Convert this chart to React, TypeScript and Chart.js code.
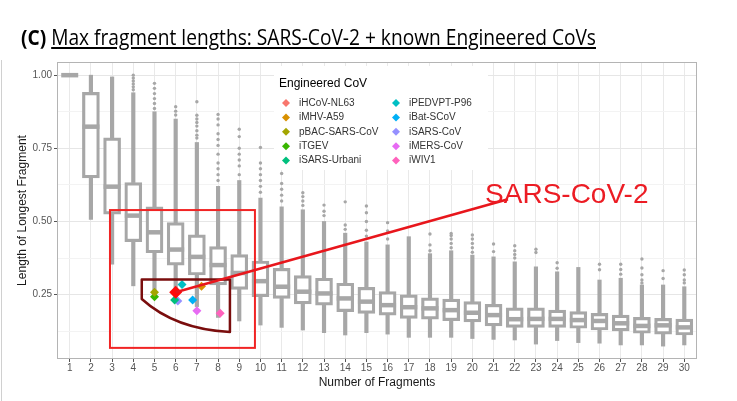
import React, { useEffect, useRef } from "react";
import { Chart, registerables } from "chart.js";

Chart.register(...registerables);

// ---------- data ----------
const fragmentCounts = [1, 2, 3, 4, 5, 6, 7, 8, 9, 10, 11, 12, 13, 14, 15, 16, 17, 18, 19, 20, 21, 22, 23, 24, 25, 26, 27, 28, 29, 30];
const whiskerLow = [1.0, 0.507, 0.354, 0.28, 0.265, 0.235, 0.209, 0.172, 0.16, 0.146, 0.138, 0.129, 0.12, 0.112, 0.12, 0.115, 0.104, 0.104, 0.104, 0.1, 0.097, 0.095, 0.081, 0.093, 0.086, 0.084, 0.078, 0.078, 0.074, 0.078];
const q1 = [1.0, 0.649, 0.525, 0.431, 0.393, 0.351, 0.317, 0.283, 0.268, 0.243, 0.237, 0.218, 0.214, 0.192, 0.186, 0.18, 0.169, 0.166, 0.161, 0.157, 0.143, 0.138, 0.138, 0.138, 0.135, 0.129, 0.126, 0.118, 0.115, 0.112];
const medians = [1.0, 0.824, 0.619, 0.52, 0.463, 0.404, 0.379, 0.351, 0.324, 0.296, 0.277, 0.26, 0.254, 0.237, 0.226, 0.214, 0.207, 0.203, 0.197, 0.188, 0.18, 0.166, 0.167, 0.167, 0.163, 0.16, 0.152, 0.143, 0.145, 0.138];
const q3 = [1.0, 0.941, 0.786, 0.633, 0.55, 0.496, 0.454, 0.414, 0.387, 0.365, 0.34, 0.315, 0.306, 0.289, 0.275, 0.26, 0.249, 0.239, 0.235, 0.226, 0.217, 0.205, 0.205, 0.197, 0.192, 0.186, 0.18, 0.172, 0.169, 0.166];
const whiskerHigh = [1.0, 1.0, 0.994, 0.94, 0.875, 0.85, 0.77, 0.62, 0.64, 0.58, 0.55, 0.54, 0.5, 0.46, 0.43, 0.42, 0.448, 0.39, 0.4, 0.385, 0.379, 0.362, 0.345, 0.328, 0.343, 0.3, 0.306, 0.283, 0.283, 0.277];
const outliers: number[][] = [
  [],
  [],
  [],
  [0.95, 0.96, 0.97, 0.98, 0.99, 1.0],
  [0.886, 0.903, 0.92, 0.937, 0.955, 0.972],
  [0.864, 0.877, 0.892],
  [0.785, 0.795, 0.81, 0.826, 0.838, 0.85, 0.863, 0.909],
  [0.64, 0.66, 0.68, 0.7, 0.73, 0.76, 0.78, 0.8, 0.83, 0.85, 0.866],
  [0.66, 0.69, 0.71, 0.73, 0.75, 0.79, 0.815],
  [0.6, 0.62, 0.64, 0.66, 0.68, 0.7, 0.753],
  [0.57, 0.59, 0.61, 0.63, 0.664],
  [0.555, 0.57, 0.585, 0.598],
  [0.52, 0.535, 0.556],
  [0.473, 0.488, 0.567],
  [0.45, 0.47, 0.5, 0.53, 0.553],
  [0.44, 0.468, 0.496],
  [],
  [0.4, 0.42, 0.457],
  [0.41, 0.425, 0.44, 0.452, 0.459],
  [0.395, 0.41, 0.425, 0.44, 0.454],
  [0.397, 0.423],
  [0.375, 0.387, 0.4, 0.417],
  [0.394, 0.405],
  [0.34, 0.359],
  [],
  [0.335, 0.354],
  [0.32, 0.336, 0.354],
  [0.29, 0.3, 0.318, 0.341, 0.372],
  [0.305, 0.332],
  [0.29, 0.3, 0.318, 0.334],
];

const yMajorTicks = [0.25, 0.5, 0.75, 1.0];
const yMinorTicks = [0.125, 0.375, 0.625, 0.875];

const engineeredNames = ["iHCoV-NL63", "iMHV-A59", "pBAC-SARS-CoV", "iTGEV", "iSARS-Urbani", "iPEDVPT-P96", "iBat-SCoV", "iSARS-CoV", "iMERS-CoV", "iWIV1"];
const engineeredColors = ["#F8766D", "#D89000", "#A3A500", "#39B600", "#00BF7D", "#00BFC4", "#00B0F6", "#9590FF", "#E76BF3", "#FF62BC"];
const engineeredX = [6.0, 7.22, 5.0, 5.0, 5.95, 6.3, 6.8, 6.1, 7.0, 8.1];
const engineeredY = [0.255, 0.279, 0.258, 0.243, 0.232, 0.285, 0.232, 0.228, 0.195, 0.186];

const sarsCov2Label = "SARS-CoV-2";
const sarsCov2X = [6.0];
const sarsCov2Y = [0.258];

// annotation geometry in data units
const highlightRect = { x0: 2.9, x1: 9.74, y0: 0.539, y1: 0.068 };
const outlineTop = { xLeft: 4.4, xRight: 8.56, y: 0.302 };
const outlineBottomRightY = 0.122;
const outlineLeftBottomY = 0.235;
const outlineCurveCtrl = { x: 5.97, y: 0.132 };
const labelAnchor = { x: 20.6, y: 0.563 };
const lineEnd = { x: 21.68, y: 0.576 };

const FONT = "'Liberation Sans', Arial, Helvetica, sans-serif";
const GREY = "#a7a7a7";

const overlayPlugin = {
  id: "overlay",
  beforeDatasetsDraw(chart: any) {
    const { ctx, chartArea: a } = chart;
    ctx.save();
    // legend background (covers grid)
    ctx.fillStyle = "#ffffff";
    ctx.fillRect(a.left + 217, a.top + 4, 214, 104);
    // panel border
    ctx.strokeStyle = "#b4b4b4";
    ctx.lineWidth = 1;
    ctx.strokeRect(a.left + 0.5, a.top + 0.5, a.right - a.left - 1, a.bottom - a.top - 1);
    // figure frame at far left
    ctx.strokeStyle = "#d0d0d0";
    ctx.beginPath();
    ctx.moveTo(1.5, a.top - 2);
    ctx.lineTo(1.5, chart.height);
    ctx.stroke();
    ctx.restore();
  },
  afterDatasetsDraw(chart: any) {
    const { ctx, chartArea: a } = chart;
    const xs = chart.scales.x;
    const ys = chart.scales.y;
    const px = (v: number) => xs.getPixelForValue(v);
    const py = (v: number) => ys.getPixelForValue(v);
    ctx.save();

    // red highlight rectangle
    ctx.strokeStyle = "#f12424";
    ctx.lineWidth = 2;
    ctx.strokeRect(px(highlightRect.x0), py(highlightRect.y0), px(highlightRect.x1) - px(highlightRect.x0), py(highlightRect.y1) - py(highlightRect.y0));

    // dark red outline
    ctx.strokeStyle = "#7a0d0d";
    ctx.lineWidth = 2.5;
    ctx.lineJoin = "round";
    ctx.beginPath();
    ctx.moveTo(px(outlineTop.xLeft), py(outlineTop.y));
    ctx.lineTo(px(outlineTop.xRight), py(outlineTop.y));
    ctx.lineTo(px(outlineTop.xRight), py(outlineBottomRightY));
    ctx.quadraticCurveTo(px(outlineCurveCtrl.x), py(outlineCurveCtrl.y), px(outlineTop.xLeft), py(outlineLeftBottomY));
    ctx.closePath();
    ctx.stroke();

    // pointer line
    ctx.strokeStyle = "#e8161c";
    ctx.lineWidth = 2.5;
    ctx.beginPath();
    ctx.moveTo(px(sarsCov2X[0]), py(sarsCov2Y[0]));
    ctx.lineTo(px(lineEnd.x), py(lineEnd.y));
    ctx.stroke();

    // label
    ctx.fillStyle = "#ec1c24";
    ctx.font = `28px ${FONT}`;
    ctx.textBaseline = "alphabetic";
    ctx.textAlign = "left";
    ctx.fillText(sarsCov2Label, px(labelAnchor.x), py(labelAnchor.y));

    // legend
    const lx = a.left + 222;
    const ly = a.top + 22;
    ctx.fillStyle = "#000000";
    ctx.font = `12px ${FONT}`;
    ctx.textBaseline = "middle";
    ctx.fillText("Engineered CoV", lx, ly);
    ctx.font = `10px ${FONT}`;
    engineeredNames.forEach((name, i) => {
      const col = Math.floor(i / 5);
      const row = i % 5;
      const cx = lx + 7 + col * 110;
      const cy = ly + 19 + row * 14.4;
      ctx.fillStyle = engineeredColors[i];
      ctx.beginPath();
      ctx.moveTo(cx, cy - 4);
      ctx.lineTo(cx + 4, cy);
      ctx.lineTo(cx, cy + 4);
      ctx.lineTo(cx - 4, cy);
      ctx.closePath();
      ctx.fill();
      ctx.fillStyle = "#333333";
      ctx.fillText(name, cx + 13, cy);
    });
    ctx.restore();
  },
};

export default function App() {
  const canvasRef = useRef<HTMLCanvasElement>(null);
  const titleRef = useRef<HTMLDivElement>(null);

  useEffect(() => {
    document.body.style.margin = "0";
    const boxes = fragmentCounts.map((c, i) => ({ x: c, y: [q1[i], q3[i]] }));
    const lowW = fragmentCounts.map((c, i) => ({ x: c, y: [whiskerLow[i], q1[i]] }));
    const highW = fragmentCounts.map((c, i) => ({ x: c, y: [q3[i], whiskerHigh[i]] }));
    const meds = fragmentCounts.map((c, i) => ({ x: c, y: medians[i] }));
    const outs = outliers.flatMap((arr, i) => arr.map((v) => ({ x: fragmentCounts[i], y: v })));

    const datasets: any[] = [
      { type: "bar", data: lowW, backgroundColor: GREY, borderWidth: 0, barThickness: 3.5, grouped: false, order: 20 },
      { type: "bar", data: highW, backgroundColor: GREY, borderWidth: 0, barThickness: 3.5, grouped: false, order: 20 },
      { type: "bar", data: boxes, backgroundColor: "#ffffff", borderColor: GREY, borderWidth: 3.2, borderSkipped: false, barThickness: 17, grouped: false, order: 19 },
      { type: "scatter", data: meds, pointStyle: "line", pointRadius: 8.5, borderColor: GREY, borderWidth: 4.5, order: 18 },
      { type: "scatter", data: outs, pointStyle: "circle", pointRadius: 1.7, backgroundColor: GREY, borderWidth: 0, order: 17 },
      ...engineeredNames.map((name, i) => ({
        type: "scatter",
        label: name,
        data: [{ x: engineeredX[i], y: engineeredY[i] }],
        pointStyle: "rectRot",
        pointRadius: 4.5,
        backgroundColor: engineeredColors[i],
        borderWidth: 0,
        order: 5,
      })),
      {
        type: "scatter",
        label: sarsCov2Label,
        data: sarsCov2X.map((x, i) => ({ x, y: sarsCov2Y[i] })),
        pointStyle: "rectRot",
        pointRadius: 6.5,
        backgroundColor: "#ff0a0a",
        borderWidth: 0,
        order: 1,
      },
    ];

    const chart = new Chart(canvasRef.current as HTMLCanvasElement, {
      type: "scatter",
      data: { datasets },
      plugins: [overlayPlugin],
      options: {
        animation: false,
        responsive: false,
        devicePixelRatio: 1,
        events: [],
        layout: { padding: { left: 0, right: 40, top: 62, bottom: 0 } },
        plugins: { legend: { display: false }, tooltip: { enabled: false }, title: { display: false } },
        scales: {
          x: {
            type: "linear",
            min: 0.4,
            max: 30.6,
            offset: false,
            afterBuildTicks: (s: any) => {
              s.ticks = fragmentCounts.map((v) => ({ value: v }));
            },
            afterFit: (s: any) => {
              s.height = 42;
            },
            grid: { color: "#e9e9e9", lineWidth: 1, tickLength: 3, tickColor: "#555555", offset: false },
            border: { display: false },
            ticks: {
              font: { family: FONT, size: 10 },
              color: "#555555",
              padding: 0,
              maxRotation: 0,
              autoSkip: false,
              callback: (v: any) => String(v),
            },
            title: {
              display: true,
              text: "Number of Fragments",
              font: { family: FONT, size: 12 },
              color: "#1a1a1a",
              padding: { top: 0, bottom: 11 },
            },
          },
          y: {
            type: "linear",
            min: 0.03,
            max: 1.045,
            afterBuildTicks: (s: any) => {
              s.ticks = [...yMinorTicks, ...yMajorTicks].sort((a, b) => a - b).map((v) => ({ value: v }));
            },
            afterFit: (s: any) => {
              s.width = 57;
            },
            grid: {
              color: (c: any) => (yMajorTicks.includes(c.tick?.value) ? "#e6e6e6" : "#f3f3f3"),
              lineWidth: 1,
              tickLength: 3,
              tickColor: (c: any) => (yMajorTicks.includes(c.tick?.value) ? "#555555" : "rgba(0,0,0,0)"),
            },
            border: { display: false },
            ticks: {
              font: { family: FONT, size: 10 },
              color: "#555555",
              padding: 2,
              autoSkip: false,
              callback: (v: any) => (yMajorTicks.includes(v) ? Number(v).toFixed(2) : ""),
            },
            title: {
              display: true,
              text: "Length of Longest Fragment",
              font: { family: FONT, size: 12 },
              color: "#1a1a1a",
              padding: { top: 15, bottom: 0 },
            },
          },
        },
      } as any,
    });

    const fit = () => {
      const el = titleRef.current;
      if (!el) return;
      el.style.transform = "none";
      const w = el.getBoundingClientRect().width;
      if (w > 0) el.style.transform = `scaleX(${575 / w})`;
    };
    fit();
    (document as any).fonts?.ready?.then(fit);

    return () => chart.destroy();
  }, []);

  return (
    <div style={{ position: "relative", width: 737, height: 401, background: "#ffffff", overflow: "hidden" }}>
      <canvas ref={canvasRef} width={737} height={401} style={{ display: "block" }} />
      <div
        ref={titleRef}
        style={{
          position: "absolute",
          left: 21,
          top: 25,
          fontFamily: "'Liberation Sans Narrow', 'Open Sans', sans-serif",
          fontSize: 21,
          lineHeight: "24px",
          whiteSpace: "nowrap",
          transformOrigin: "left top",
          color: "#000000",
        }}
      >
        <span style={{ fontWeight: "bold" }}>(C)</span>{" "}
        <span style={{ textDecoration: "underline" }}>Max fragment lengths: SARS-CoV-2 + known Engineered CoVs</span>
      </div>
    </div>
  );
}
